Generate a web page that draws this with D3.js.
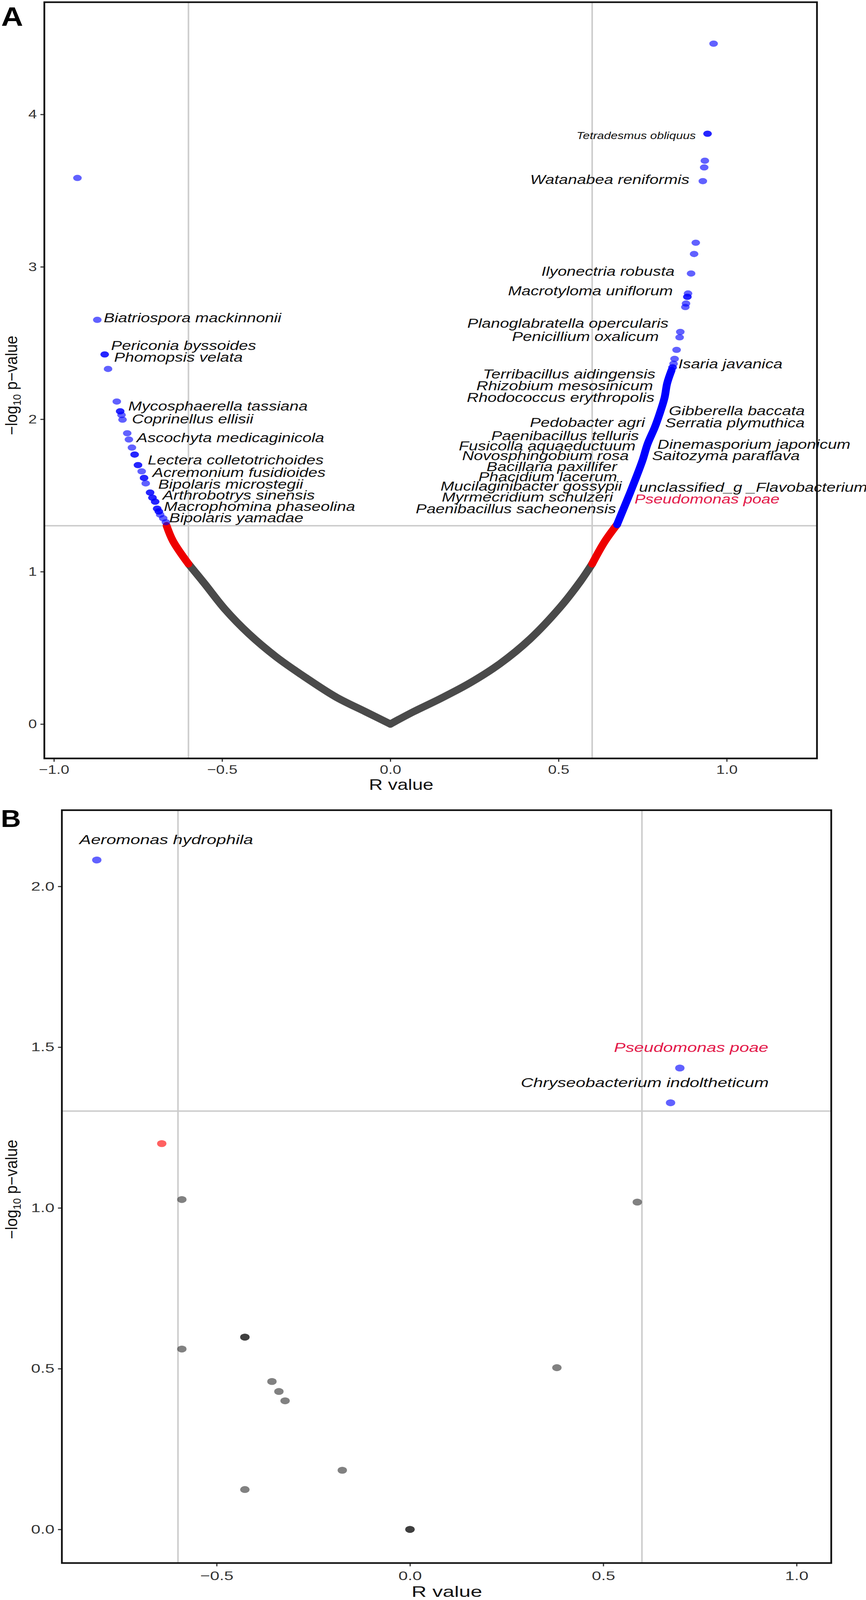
<!DOCTYPE html>
<html>
<head>
<meta charset="utf-8">
<script src="https://cdn.jsdelivr.net/npm/d3@7"></script>
<style>
  html, body { margin: 0; padding: 0; background: #fff; overflow: hidden; }
  svg { display: block; width: 100vw; height: 100vh; }
  text { font-family: "Liberation Sans", Arial, Helvetica, sans-serif; }
</style>
</head>
<body>
<svg id="fig" viewBox="0 0 2217 4372" preserveAspectRatio="none"></svg>
<script>
// =========================
// DATA
// =========================

// cut-offs
const rCut = [-0.6, 0.6];
const pCut = 1.301;
const highlight = "Pseudomonas poae";

// ---- panel A ----
// dense runs of overlapping points, traced as [R, -log10 p]
const aGreyBandLeft = [
  [-0.600, 1.051], [-0.553, 0.924], [-0.491, 0.752], [-0.420, 0.591],
  [-0.340, 0.442], [-0.251, 0.304], [-0.162, 0.178], [-0.073, 0.080], [0.000, 0.000]
];
const aGreyBandRight = [
  [0.000, 0.000], [0.068, 0.080], [0.149, 0.167], [0.237, 0.270],
  [0.326, 0.396], [0.415, 0.557], [0.504, 0.764], [0.565, 0.936], [0.600, 1.051]
];
const aRedBandLeft = [[-0.600, 1.051], [-0.646, 1.201], [-0.665, 1.302]];
const aRedBandRight = [[0.600, 1.051], [0.637, 1.196], [0.674, 1.309]];
const aBlueBandRight = [
  [0.674, 1.309], [0.693, 1.411], [0.713, 1.518], [0.732, 1.625],
  [0.750, 1.732], [0.765, 1.839], [0.786, 1.946], [0.800, 2.032],
  [0.815, 2.139], [0.823, 2.236], [0.836, 2.321]
];
// single points [R, -log10 p, how many overlap]
const aBluePoints = [
  [-0.930, 3.583, 1], [-0.871, 2.652, 1], [-0.849, 2.425, 2], [-0.839, 2.330, 1],
  [-0.813, 2.116, 1], [-0.803, 2.052, 2], [-0.799, 2.028, 1], [-0.796, 1.997, 1],
  [-0.782, 1.908, 1], [-0.777, 1.867, 1], [-0.768, 1.814, 1], [-0.760, 1.768, 2],
  [-0.750, 1.699, 2], [-0.739, 1.658, 1], [-0.732, 1.615, 2], [-0.727, 1.579, 1],
  [-0.714, 1.519, 2], [-0.707, 1.485, 2], [-0.699, 1.459, 2], [-0.693, 1.413, 2],
  [-0.688, 1.395, 2], [-0.684, 1.374, 1], [-0.675, 1.350, 1], [-0.667, 1.324, 1],
  [0.961, 4.464, 1], [0.943, 3.873, 2], [0.935, 3.696, 1], [0.933, 3.652, 1],
  [0.929, 3.562, 1], [0.908, 3.158, 1], [0.903, 3.084, 1], [0.894, 2.956, 1],
  [0.885, 2.825, 1], [0.883, 2.803, 2], [0.879, 2.759, 1], [0.877, 2.736, 1],
  [0.862, 2.573, 1], [0.860, 2.537, 1], [0.851, 2.455, 1], [0.845, 2.396, 1],
  [0.842, 2.364, 1], [0.839, 2.340, 2]
];
// labels [name, R, -log10 p, anchor]
const aLabels = [
  ["Biatriospora mackinnonii", -0.852, 2.637, "start"],
  ["Periconia byssoides", -0.830, 2.453, "start"],
  ["Phomopsis velata", -0.821, 2.376, "start"],
  ["Mycosphaerella tassiana", -0.779, 2.057, "start"],
  ["Coprinellus ellisii", -0.768, 1.972, "start"],
  ["Ascochyta medicaginicola", -0.754, 1.849, "start"],
  ["Lectera colletotrichoides", -0.721, 1.702, "start"],
  ["Acremonium fusidioides", -0.707, 1.622, "start"],
  ["Bipolaris microstegii", -0.690, 1.545, "start"],
  ["Arthrobotrys sinensis", -0.677, 1.472, "start"],
  ["Macrophomina phaseolina", -0.673, 1.399, "start"],
  ["Bipolaris yamadae", -0.657, 1.325, "start"],
  ["Watanabea reniformis", 0.889, 3.543, "end"],
  ["Ilyonectria robusta", 0.845, 2.942, "end"],
  ["Macrotyloma uniflorum", 0.840, 2.814, "end"],
  ["Planoglabratella opercularis", 0.827, 2.601, "end"],
  ["Penicillium oxalicum", 0.798, 2.514, "end"],
  ["Terribacillus aidingensis", 0.788, 2.266, "end"],
  ["Rhizobium mesosinicum", 0.781, 2.191, "end"],
  ["Rhodococcus erythropolis", 0.785, 2.113, "end"],
  ["Pedobacter agri", 0.757, 1.948, "end"],
  ["Paenibacillus telluris", 0.739, 1.861, "end"],
  ["Fusicolla aquaeductuum", 0.729, 1.796, "end"],
  ["Novosphingobium rosa", 0.709, 1.732, "end"],
  ["Bacillaria paxillifer", 0.674, 1.659, "end"],
  ["Phacidium lacerum", 0.674, 1.593, "end"],
  ["Mucilaginibacter gossypii", 0.688, 1.531, "end"],
  ["Myrmecridium schulzeri", 0.662, 1.459, "end"],
  ["Paenibacillus sacheonensis", 0.671, 1.384, "end"],
  ["Isaria javanica", 0.856, 2.333, "start"],
  ["Gibberella baccata", 0.828, 2.027, "start"],
  ["Serratia plymuthica", 0.817, 1.946, "start"],
  ["Dinemasporium japonicum", 0.794, 1.807, "start"],
  ["Saitozyma paraflava", 0.778, 1.732, "start"],
  ["unclassified_g _Flavobacterium", 0.739, 1.523, "start"],
  ["Pseudomonas poae", 0.726, 1.448, "start"]
];
// the one label printed smaller in the figure
const aSmallLabels = [["Tetradesmus obliquus", 0.908, 3.838, "end"]];
const aXTicks = [-1, -0.5, 0, 0.5, 1];
const aYTicks = [0, 1, 2, 3, 4];

// ---- panel B ----
const bBluePoints = [[-0.810, 2.082, 1], [0.698, 1.435, 1], [0.674, 1.327, 1]];
const bRedPoints = [[-0.642, 1.200, 1]];
const bGreyPoints = [
  [-0.590, 1.026, 1], [0.588, 1.018, 1], [-0.427, 0.598, 3], [-0.590, 0.561, 1],
  [0.380, 0.503, 1], [-0.357, 0.460, 1], [-0.339, 0.429, 1], [-0.323, 0.400, 1],
  [-0.175, 0.184, 1], [-0.427, 0.124, 1], [0.000, 0.000, 3]
];
const bLabels = [
  ["Aeromonas hydrophila", -0.855, 2.131, "start"],
  ["Pseudomonas poae", 0.927, 1.485, "end"],
  ["Chryseobacterium indoltheticum", 0.928, 1.376, "end"]
];
const bXTicks = [-0.5, 0, 0.5, 1];
const bYTicks = [0, 0.5, 1, 1.5, 2];

// =========================
// DRAW
// =========================
const svg = d3.select("#fig");
const COL = { blue: "#0000ff", red: "#ff0000", grey: "#333333", hot: "#e31a4a" };

function txt(g, px, py, s, o) {
  return g.append("text")
    .attr("transform", `translate(${px},${py}) scale(${o.sx},1)` + (o.rot ? " rotate(-90)" : ""))
    .attr("text-anchor", o.anchor || "start")
    .attr("font-size", o.size)
    .attr("font-style", o.italic ? "italic" : null)
    .attr("font-weight", o.bold ? "bold" : null)
    .attr("fill", o.fill || "#000")
    .text(s);
}

function panel(o) {
  const g = svg.append("g");
  const x = d3.scaleLinear().domain(o.xDom).range([o.left, o.right]);
  const y = d3.scaleLinear().domain(o.yDom).range([o.bottom, o.top]);

  // reference lines
  g.selectAll("line.vref").data(rCut).join("line")
    .attr("x1", d => x(d)).attr("x2", d => x(d))
    .attr("y1", o.top).attr("y2", o.bottom)
    .attr("stroke", "#cccccc").attr("stroke-width", 4);
  g.append("line")
    .attr("x1", o.left).attr("x2", o.right)
    .attr("y1", y(pCut)).attr("y2", y(pCut))
    .attr("stroke", "#cccccc").attr("stroke-width", 4);

  // dense runs
  const line = d3.line().x(d => x(d[0])).y(d => y(d[1])).curve(d3.curveCatmullRom);
  (o.bands || []).forEach(b => {
    g.append("path").attr("d", line(b.data))
      .attr("fill", "none").attr("stroke", b.color)
      .attr("stroke-width", o.bandWidth)
      .attr("stroke-linecap", "round").attr("stroke-linejoin", "round");
  });

  // single points, overlaps drawn as repeats
  (o.points || []).forEach(p => {
    const pts = p.data.flatMap(d => d3.range(d[2]).map(() => d));
    g.append("g").selectAll("ellipse").data(pts).join("ellipse")
      .attr("cx", d => x(d[0])).attr("cy", d => y(d[1]))
      .attr("rx", o.rx).attr("ry", o.ry)
      .attr("fill", p.color).attr("fill-opacity", 0.62);
  });

  // axes
  const gx = g.append("g").attr("transform", `translate(0,${o.bottom})`)
    .call(d3.axisBottom(x).tickValues(o.xTicks).tickSize(9).tickPadding(o.xPad)
      .tickFormat(d3.format(".1f")));
  const gy = g.append("g").attr("transform", `translate(${o.left},0)`)
    .call(d3.axisLeft(y).tickValues(o.yTicks).tickSize(10).tickPadding(9)
      .tickFormat(d3.format(o.yFmt)));
  [gx, gy].forEach(a => {
    a.select(".domain").remove();
    a.selectAll(".tick line").attr("stroke", "#333").attr("stroke-width", 3);
    a.selectAll(".tick text").attr("font-size", 34).attr("fill", "#333")
      .attr("transform", `scale(${o.sx},1)`);
  });
  gy.selectAll(".tick text").attr("x", -19 / o.sx);

  // frame
  g.append("rect")
    .attr("x", o.left).attr("y", o.top)
    .attr("width", o.right - o.left).attr("height", o.bottom - o.top)
    .attr("fill", "none").attr("stroke", "#111").attr("stroke-width", 4.5);

  // labels
  const lab = (list, size) => list.forEach(l => {
    txt(g, x(l[1]), y(l[2]), l[0], {
      sx: o.sx, size: size, italic: true, anchor: l[3],
      fill: l[0] === highlight ? COL.hot : "#111"
    });
  });
  lab(o.labels, o.labelSize);
  if (o.smallLabels) lab(o.smallLabels, 27);

  // titles
  txt(g, o.xTitle[0], o.xTitle[1], "R value", { sx: o.sx, size: 42, anchor: "middle", fill: "#111" });
  const yt = txt(g, 44, o.yTitleY, "", { sx: 1, size: 42, anchor: "middle", rot: true, fill: "#111" });
  yt.append("tspan").text("\u2212log");
  yt.append("tspan").attr("font-size", 28).attr("dy", 9).text("10");
  yt.append("tspan").attr("dy", -9).text(" p\u2212value");

  txt(svg, o.tag[0], o.tag[1], o.tagText, { sx: 1.05, size: o.tagSize, bold: true, fill: "#000" });
}

panel({
  left: 113.5, right: 2091.5, top: 6, bottom: 2072.4,
  xDom: [-1.0284, 1.2683], yDom: [-0.2255, 4.736],
  xTicks: aXTicks, yTicks: aYTicks, yFmt: "d", xPad: 9,
  sx: 1.16, rx: 11, ry: 8.5, bandWidth: 20,
  bands: [
    { data: aGreyBandLeft, color: "#4a4a4a" },
    { data: aGreyBandRight, color: "#4a4a4a" },
    { data: aRedBandLeft, color: "#ee0000" },
    { data: aRedBandRight, color: "#ee0000" },
    { data: aBlueBandRight, color: COL.blue }
  ],
  points: [{ data: aBluePoints, color: COL.blue }],
  labels: aLabels, smallLabels: aSmallLabels, labelSize: 36,
  xTitle: [1027, 2158], yTitleY: 1053,
  tag: [3, 70], tagText: "A", tagSize: 74
});

panel({
  left: 158.4, right: 2128, top: 2213.8, bottom: 4271,
  xDom: [-0.9003, 1.0896], yDom: [-0.1046, 2.237],
  xTicks: bXTicks, yTicks: bYTicks, yFmt: ".1f", xPad: 13,
  sx: 1.27, rx: 12, ry: 9.5, bandWidth: 20,
  points: [
    { data: bGreyPoints, color: COL.grey },
    { data: bRedPoints, color: COL.red },
    { data: bBluePoints, color: COL.blue }
  ],
  labels: bLabels, labelSize: 35,
  xTitle: [1144, 4363], yTitleY: 3250,
  tag: [2, 2260], tagText: "B", tagSize: 68
});
</script>
</body>
</html>
